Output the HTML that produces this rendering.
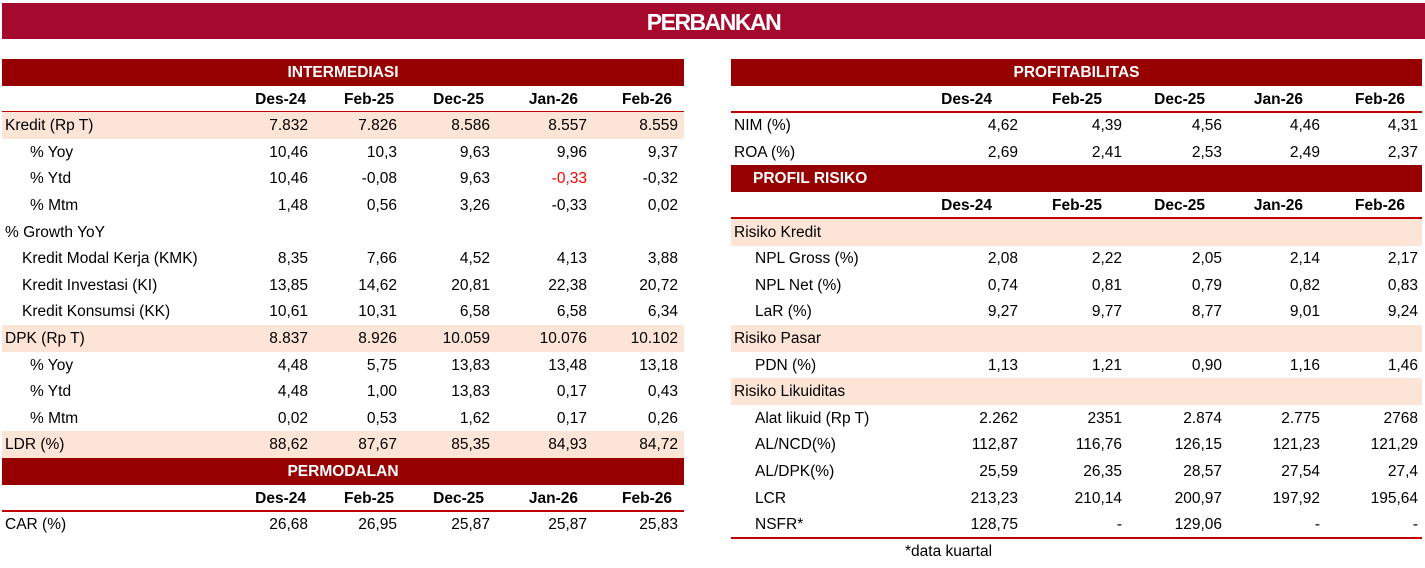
<!DOCTYPE html>
<html><head><meta charset="utf-8">
<style>
html,body{margin:0;padding:0;background:#fff;width:1425px;height:568px;overflow:hidden;position:relative;font-family:"Liberation Sans",sans-serif;}
.banner{position:absolute;left:2px;top:3px;width:1423px;height:36px;background:#a50a2e;color:#fff;text-align:center;font-weight:bold;font-size:23px;line-height:38px;letter-spacing:-1.5px;}
.row{position:absolute;height:27px;font-size:15.5px;color:#000;}
.c{position:absolute;top:0;line-height:27px;white-space:nowrap;}
.r{text-align:right;}
.sec{background:#960000;color:#fff;font-weight:bold;}
.shade{background:#fce4d6;}
.hdr{font-weight:bold;border-bottom:2px solid #c00000;box-sizing:border-box;}
.note{position:absolute;left:905px;top:541px;font-size:15.5px;line-height:22px;}
</style></head>
<body>
<div class="banner">PERBANKAN</div>
<div id="wrap"></div>
<div class="note">*data kuartal</div>
<script>
const periods=["Des-24","Feb-25","Dec-25","Jan-26","Feb-26"];
const leftRows=[
 ["sec","INTERMEDIASI"],
 ["hdr"],
 ["shade","Kredit (Rp T)",0,["7.832","7.826","8.586","8.557","8.559"]],
 ["","% Yoy",25,["10,46","10,3","9,63","9,96","9,37"]],
 ["","% Ytd",25,["10,46","-0,08","9,63","-0,33","-0,32"]],
 ["","% Mtm",25,["1,48","0,56","3,26","-0,33","0,02"]],
 ["","% Growth YoY",0,null],
 ["","Kredit Modal Kerja (KMK)",17,["8,35","7,66","4,52","4,13","3,88"]],
 ["","Kredit Investasi (KI)",17,["13,85","14,62","20,81","22,38","20,72"]],
 ["","Kredit Konsumsi (KK)",17,["10,61","10,31","6,58","6,58","6,34"]],
 ["shade","DPK (Rp T)",0,["8.837","8.926","10.059","10.076","10.102"]],
 ["","% Yoy",25,["4,48","5,75","13,83","13,48","13,18"]],
 ["","% Ytd",25,["4,48","1,00","13,83","0,17","0,43"]],
 ["","% Mtm",25,["0,02","0,53","1,62","0,17","0,26"]],
 ["shade","LDR (%)",0,["88,62","87,67","85,35","84,93","84,72"]],
 ["sec","PERMODALAN"],
 ["hdr"],
 ["","CAR (%)",0,["26,68","26,95","25,87","25,87","25,83"]]
];
const rightRows=[
 ["sec","PROFITABILITAS"],
 ["hdr"],
 ["","NIM (%)",0,["4,62","4,39","4,56","4,46","4,31"]],
 ["","ROA (%)",0,["2,69","2,41","2,53","2,49","2,37"]],
 ["secl","PROFIL RISIKO"],
 ["hdr"],
 ["shade","Risiko Kredit",0,null],
 ["","NPL Gross (%)",21,["2,08","2,22","2,05","2,14","2,17"]],
 ["","NPL Net (%)",21,["0,74","0,81","0,79","0,82","0,83"]],
 ["","LaR (%)",21,["9,27","9,77","8,77","9,01","9,24"]],
 ["shade","Risiko Pasar",0,null],
 ["","PDN (%)",21,["1,13","1,21","0,90","1,16","1,46"]],
 ["shade","Risiko Likuiditas",0,null],
 ["","Alat likuid (Rp T)",21,["2.262","2351","2.874","2.775","2768"]],
 ["","AL/NCD(%)",21,["112,87","116,76","126,15","121,23","121,29"]],
 ["","AL/DPK(%)",21,["25,59","26,35","28,57","27,54","27,4"]],
 ["","LCR",21,["213,23","210,14","200,97","197,92","195,64"]],
 ["","NSFR*",21,["128,75","-","129,06","-","-"]]
];
const leftHdrR=[306,394,484,578,672], leftValR=[308,397,490,587,678];
const rightHdrR=[992,1102,1205,1303,1405], rightValR=[1018,1122,1222,1320,1418];
const wrap=document.getElementById('wrap');
function build(rows,x0,w,hdrR,valR,side){
 rows.forEach((r,i)=>{
  const row=document.createElement('div');
  row.className='row';
  row.style.left=x0+'px';row.style.top=(59+i*26.6)+'px';row.style.width=w+'px';
  const kind=r[0];
  if(kind==='sec'||kind==='secl'){
   row.classList.add('sec');
   
   
   const t=document.createElement('div');t.className='c';t.textContent=r[1];
   if(kind==='sec'){t.style.left='0';t.style.width=w+'px';t.style.textAlign='center';}
   else t.style.left='22px';
   row.appendChild(t);
  } else if(kind==='hdr'){
   row.classList.add('hdr');
   
   
   periods.forEach((p,j)=>{const d=document.createElement('div');d.className='c r';d.textContent=p;d.style.right=(w-(hdrR[j]-x0))+'px';row.appendChild(d);});
  } else {
   if(kind==='shade')row.classList.add('shade');
   
   
   const l=document.createElement('div');l.className='c';l.textContent=r[1];l.style.left=(3+r[2])+'px';row.appendChild(l);
   if(r[3])r[3].forEach((v,j)=>{const d=document.createElement('div');d.className='c r';d.textContent=v;d.style.right=(w-(valR[j]-x0))+'px';
     if(side==='left'&&r[1]==='% Ytd'&&i===4&&j===3)d.style.color='#ff0000';row.appendChild(d);});
  }
  wrap.appendChild(row);
 });
}
build(leftRows,2,682,leftHdrR,leftValR,'left');
build(rightRows,731,691,rightHdrR,rightValR,'right');
const line=document.createElement('div');


line.style.cssText='position:absolute;left:731px;top:537px;width:691px;height:2px;background:#c00000;';
wrap.appendChild(line);
</script>
</body></html>
